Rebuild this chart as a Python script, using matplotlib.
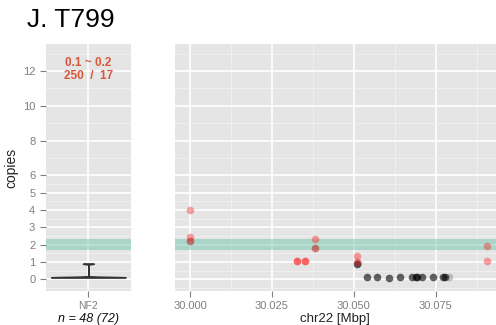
import matplotlib
matplotlib.use("Agg")
import matplotlib.pyplot as plt
from matplotlib.ticker import FixedLocator

plt.rcParams['font.family'] = ['Liberation Sans', 'DejaVu Sans']

# copy numbers of NF2 probes (left panel, violin)
nf2_copies = [0.10, 0.10, 0.10, 0.10, 0.11, 0.11, 0.11, 0.11, 0.11, 0.11,
              0.11, 0.12, 0.12, 0.12, 0.12, 0.12, 0.12, 0.12, 0.12, 0.12,
              0.12, 0.12, 0.12, 0.13, 0.13, 0.13, 0.13, 0.13, 0.13, 0.13,
              0.13, 0.13, 0.14, 0.14, 0.14, 0.14, 0.14, 0.14, 0.15, 0.15,
              0.15, 0.16, 0.88, 0.89, 0.90, 0.90, 0.91, 0.92]

# probes along chr22 (right panel)
red_pos = [30.000, 30.000, 30.000, 30.0382, 30.0382, 30.0326, 30.0326,
           30.0351, 30.0351, 30.0511, 30.0511, 30.0908, 30.0908]
red_cn = [4.0, 2.45, 2.22, 2.3, 1.78, 1.05, 1.05, 1.05, 1.05, 1.36, 1.02,
          1.92, 1.05]
black_pos = [30.0509, 30.0541, 30.0572, 30.0608, 30.0642, 30.0677,
             30.0690, 30.0694, 30.0708, 30.0743, 30.0773, 30.0778]
black_cn = [0.88, 0.115, 0.115, 0.10, 0.115, 0.115, 0.12, 0.15,
            0.115, 0.115, 0.11, 0.115]
faint_pos = [30.000, 30.0382, 30.0792, 30.0512]
faint_cn = [2.22, 1.78, 0.12, 0.92]

y_ticks = [0, 1, 2, 3, 4, 5, 6, 8, 10, 12]
y_minor = [-0.5, 0.5, 1.5, 2.5, 3.5, 4.5, 5.5, 7, 9, 11, 13]
x_ticks = [30.000, 30.025, 30.050, 30.075]
x_minor = [29.9875, 30.0125, 30.0375, 30.0625, 30.0875]
band = (1.7, 2.3)

ylim = (-0.67, 13.54)
grey = '#7F7F7F'

fig = plt.figure(figsize=(4.96, 3.25), dpi=100)
ax1 = fig.add_axes([0.0921, 0.1046, 0.172, 0.759])
ax2 = fig.add_axes([0.3522, 0.1046, 0.6478, 0.759])

for ax in (ax1, ax2):
    ax.set_facecolor('#E5E5E5')
    for s in ax.spines.values():
        s.set_visible(False)
    ax.set_ylim(*ylim)
    ax.yaxis.set_major_locator(FixedLocator(y_ticks))
    ax.yaxis.set_minor_locator(FixedLocator(y_minor))
    ax.grid(which='major', color='white', lw=1.2)
    ax.grid(which='minor', color='#F2F2F2', lw=0.6)
    ax.set_axisbelow(True)
    ax.tick_params(which='major', colors=grey, labelsize=8, length=4, width=0.8)
    ax.tick_params(which='minor', length=0)
    ax.axhspan(band[0], band[1], color='#66C2A5', alpha=0.45, lw=0, zorder=1)

# left panel: violin
vp = ax1.violinplot([nf2_copies], positions=[0], widths=1.05,
                    showextrema=False, bw_method=0.07)
for b in vp['bodies']:
    b.set_facecolor('#333333')
    b.set_edgecolor('#333333')
    b.set_linewidth(1.0)
    b.set_alpha(1)
    b.set_zorder(3)
ax1.set_xlim(-0.6, 0.6)
ax1.set_xticks([0])
ax1.set_xticklabels(['NF2'], fontsize=7.5)
ax1.xaxis.set_minor_locator(FixedLocator([]))
ax1.set_yticklabels([str(t) for t in y_ticks])
ax1.set_xlabel('n = 48 (72)', style='italic', fontsize=9, color='#111111', labelpad=1)
ax1.set_ylabel('copies', fontsize=10, color='#222222', labelpad=3)
ax1.text(0, 12.46, '0.1 ~ 0.2', ha='center', va='center', fontsize=8.5,
         color='#D6573A', fontweight='bold')
ax1.text(0, 11.74, '250  /  17', ha='center', va='center', fontsize=8.5,
         color='#D6573A', fontweight='bold')

# right panel: probes
ax2.scatter(faint_pos, faint_cn, s=30, color='black', alpha=0.2, lw=0, zorder=3)
ax2.scatter(black_pos, black_cn, s=30, color='black', alpha=0.6, lw=0, zorder=3)
ax2.scatter(red_pos, red_cn, s=30, color='#FF1010', alpha=0.38, lw=0, zorder=4)
ax2.set_xlim(29.9953, 30.0934)
ax2.xaxis.set_major_locator(FixedLocator(x_ticks))
ax2.xaxis.set_minor_locator(FixedLocator(x_minor))
ax2.set_xticklabels(['%.3f' % t for t in x_ticks])
ax2.tick_params(axis='y', which='both', length=0, labelleft=False)
ax2.set_xlabel('chr22 [Mbp]', fontsize=9.5, color='#222222', labelpad=1)

fig.text(0.054, 0.938, 'J. T799', fontsize=19, ha='left', va='center')

fig.savefig('out.png', dpi=100)
